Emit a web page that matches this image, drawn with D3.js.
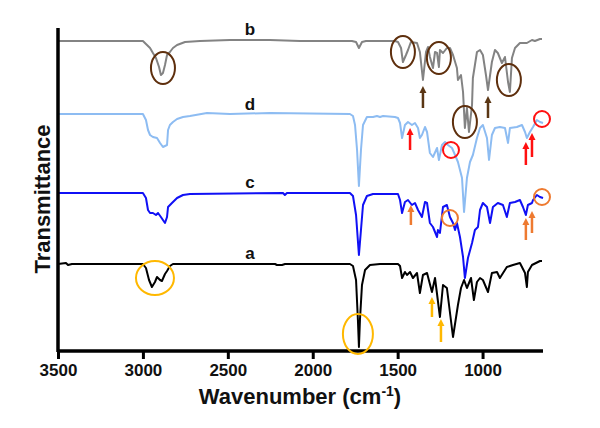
<!DOCTYPE html>
<html><head><meta charset="utf-8">
<script src="https://cdn.jsdelivr.net/npm/d3@7"></script>
<style>html,body{margin:0;padding:0;background:#fff;}svg{display:block;}</style>
</head><body>
<script>
// ---- Data: [wavenumber (cm-1), transmittance (arb. units, stacked)] ----
const xTicks = [3500, 3000, 2500, 2000, 1500, 1000];
const seriesLabels = ["b", "d", "c", "a"];

const spectrumB = [
 [3500,309],[3000,309],[2982,306],[2958,302],[2941,297],[2923,292],[2905,283],[2894,275],[2882,277],[2870,285],
 [2858,295],[2841,298],[2823,302],[2799,305],[2752,308],[2664,309],[2487,310],[2252,310],[2075,309],[1769,309],
 [1745,308],[1728,302],[1710,308],[1687,309],[1516,309],[1498,308],[1480,302],[1469,288],[1451,295],[1439,300],
 [1422,308],[1386,307],[1369,298],[1351,270],[1333,298],[1321,303],[1310,293],[1292,282],[1280,298],[1268,297],
 [1257,283],[1251,300],[1233,297],[1210,302],[1192,302],[1174,295],[1151,282],[1145,270],[1127,275],[1115,258],
 [1104,222],[1092,242],[1080,218],[1062,245],[1057,272],[1045,285],[1033,298],[1015,300],[998,295],[980,275],
 [968,260],[945,288],[927,300],[910,297],[886,287],[868,293],[850,268],[839,258],[827,292],[809,302],[780,307],
 [739,307],[709,310],[692,309],[662,311],[650,311]
];

const spectrumD = [
 [3500,236],[3000,236],[2982,230],[2970,220],[2958,215],[2941,213],[2917,212],[2899,207],[2882,203],[2858,205],
 [2852,220],[2841,225],[2823,228],[2799,231],[2764,233],[2723,234],[2623,237],[2487,236],[2252,237],[1781,236],
 [1763,234],[1751,225],[1739,200],[1728,164],[1716,200],[1704,225],[1681,233],[1645,233],[1622,234],[1604,233],
 [1586,234],[1516,233],[1498,232],[1486,227],[1474,212],[1457,225],[1439,228],[1416,225],[1398,227],[1380,222],
 [1369,212],[1357,215],[1339,223],[1327,218],[1310,197],[1292,193],[1268,202],[1257,190],[1239,205],[1221,208],
 [1204,205],[1180,202],[1162,195],[1145,188],[1121,172],[1109,138],[1092,172],[1074,188],[1057,195],[1033,212],
 [1015,222],[998,225],[974,212],[962,190],[945,215],[927,222],[898,223],[868,222],[850,207],[839,222],[798,223],
 [768,225],[750,218],[739,212],[721,218],[703,223],[680,230],[662,228],[644,227]
];

const spectrumC = [
 [3500,157],[3000,157],[2982,152],[2970,140],[2958,137],[2941,137],[2923,135],[2911,137],[2894,133],[2870,127],
 [2858,133],[2852,143],[2829,147],[2799,152],[2764,155],[2723,156],[2175,157],[2164,155],[2152,157],[1781,157],
 [1763,154],[1745,135],[1728,95],[1716,120],[1704,145],[1681,154],[1645,156],[1604,156],[1498,156],[1486,150],
 [1474,137],[1457,148],[1439,150],[1416,145],[1398,147],[1380,140],[1357,133],[1339,148],[1327,147],[1310,127],
 [1292,123],[1268,113],[1263,120],[1251,117],[1233,143],[1210,145],[1192,133],[1174,127],[1162,120],[1151,127],
 [1133,113],[1115,93],[1104,72],[1086,92],[1062,107],[1045,120],[1027,123],[1015,140],[998,147],[974,143],
 [956,127],[939,143],[910,147],[880,145],[857,133],[839,147],[809,148],[780,150],[762,143],[745,135],
 [733,145],[709,147],[703,150],[680,155],[662,153],[644,152]
];

const spectrumA = [
 [3500,86],[3453,87],[3441,85],[3418,86],[3000,86],[2982,82],[2964,70],[2947,63],[2929,68],[2917,73],
 [2899,70],[2888,69],[2870,76],[2858,79],[2841,84],[2823,86],[2664,86],[2222,86],[2211,85],[2181,85],
 [2163,86],[1781,86],[1763,84],[1745,70],[1734,30],[1728,3],[1722,30],[1710,65],[1692,80],[1663,85],
 [1604,86],[1498,86],[1486,84],[1474,72],[1457,78],[1445,75],[1427,78],[1410,72],[1386,77],[1369,57],
 [1351,75],[1327,77],[1298,58],[1280,72],[1251,33],[1233,65],[1210,62],[1174,13],[1145,45],[1127,62],
 [1109,70],[1092,62],[1068,72],[1051,50],[1033,68],[1015,72],[998,70],[968,58],[945,77],[915,78],
 [898,72],[857,83],[821,85],[780,87],[750,77],[739,63],[733,78],[709,85],[662,89],[650,89]
];

// ---- Annotations (wavenumber, value) ----
const brownEllipses = [[2882,282],[1469,298],[1257,292],[1104,228],[845,270]];
const brownArrows = [[1351,242,264],[968,232,254]];
const redCircles = [[1186,200],[650,231]];
const redArrows = [[1427,200,222],[745,185,208],[709,193,217]];
const orangeCircles = [[1192,132],[650,153]];
const orangeArrows = [[1422,125,145],[745,110,132],[709,117,139]];
const yellowEllipses = [[2929,72,19,17],[1734,16,15,20]];
const yellowArrows = [[1298,33,53],[1245,8,31]];
// label anchor points (wavenumber, value)
const labelPos = [[2370, 315], [2370, 240], [2370, 162], [2370, 91]];

// ---- Drawing ----
const W = 600, H = 428;
const svg = d3.select("body").append("svg").attr("width", W).attr("height", H);
const x = d3.scaleLinear().domain([3500, 650]).range([58, 542]);
const y = d3.scaleLinear().domain([0, 322]).range([350, 28]);

const line = d3.line().x(d => x(d[0])).y(d => y(d[1]));
const series = [
  {data: spectrumB, color: "#838383"},
  {data: spectrumD, color: "#8dbcf2"},
  {data: spectrumC, color: "#1010f5"},
  {data: spectrumA, color: "#000000"}
];
series.forEach(s => {
  svg.append("path").attr("d", line(s.data)).attr("fill", "none")
    .attr("stroke", s.color).attr("stroke-width", 2).attr("stroke-linejoin", "round");
});

// axes
const xAxis = d3.axisBottom(x).tickValues(xTicks).tickSize(8).tickFormat(d3.format("d"));
const gx = svg.append("g").attr("transform", "translate(0,351)").call(xAxis);
gx.select(".domain").attr("stroke", "#000").attr("stroke-width", 3.5).attr("d", "M57,0H543");
gx.selectAll(".tick line").attr("stroke", "#000").attr("stroke-width", 3);
gx.selectAll(".tick text").attr("font-family", "Liberation Sans, Arial, sans-serif")
  .attr("font-weight", "bold").attr("font-size", 17).attr("fill", "#111").attr("dy", "0.95em").attr("y", 9);

svg.append("line").attr("x1", 58).attr("x2", 58).attr("y1", 28).attr("y2", 352)
  .attr("stroke", "#000").attr("stroke-width", 3.5);

// titles
const title = svg.append("text").attr("x", 300).attr("y", 404).attr("text-anchor", "middle")
  .attr("font-family", "Liberation Sans, Arial, sans-serif").attr("font-weight", "bold")
  .attr("font-size", 22).attr("fill", "#111");
title.append("tspan").text("Wavenumber (cm");
title.append("tspan").attr("font-size", 14).attr("dy", -8).text("-1");
title.append("tspan").attr("dy", 8).text(")");

svg.append("text").attr("transform", "translate(50,199) rotate(-90)").attr("text-anchor", "middle")
  .attr("font-family", "Liberation Sans, Arial, sans-serif").attr("font-weight", "bold")
  .attr("font-size", 22).attr("fill", "#111").text("Transmittance");

// series labels
seriesLabels.forEach((t, i) => {
  svg.append("text").attr("x", x(labelPos[i][0])).attr("y", y(labelPos[i][1]))
    .attr("text-anchor", "middle").attr("font-family", "Liberation Sans, Arial, sans-serif")
    .attr("font-weight", "bold").attr("font-size", 17).attr("fill", "#111").text(t);
});

// annotation helpers
function ellipses(list, color, rx, ry) {
  list.forEach(e => {
    svg.append("ellipse").attr("cx", x(e[0])).attr("cy", y(e[1]))
      .attr("rx", e[2] || rx).attr("ry", e[3] || ry)
      .attr("fill", "none").attr("stroke", color).attr("stroke-width", 2);
  });
}
function arrows(list, color) {
  list.forEach(a => {
    const ax = x(a[0]), y0 = y(a[1]), y1 = y(a[2]);
    svg.append("line").attr("x1", ax).attr("x2", ax).attr("y1", y0).attr("y2", y1 + 6)
      .attr("stroke", color).attr("stroke-width", 2.5);
    svg.append("path").attr("d", `M${ax - 3.5},${y1 + 7}L${ax},${y1}L${ax + 3.5},${y1 + 7}Z`)
      .attr("fill", color);
  });
}
ellipses(brownEllipses, "#5e2f0d", 12, 16);
arrows(brownArrows, "#5a3614");
ellipses(redCircles, "#ff1010", 8, 8);
arrows(redArrows, "#ff1010");
ellipses(orangeCircles, "#ee7a30", 8, 8);
arrows(orangeArrows, "#ee7a30");
ellipses(yellowEllipses, "#ffb800", 15, 17);
arrows(yellowArrows, "#ffb800");
</script>
</body></html>
